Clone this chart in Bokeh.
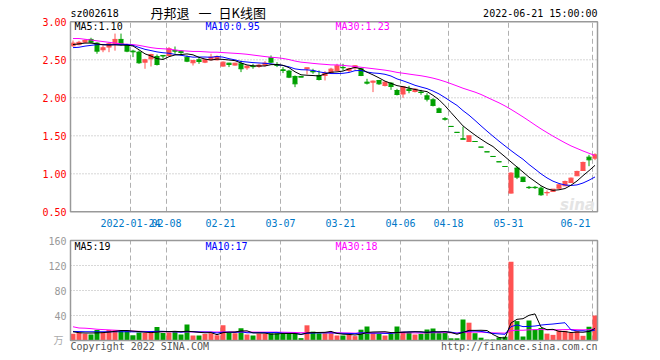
from bokeh.plotting import figure
from bokeh.models import Range1d, ColumnDataSource
from bokeh.core.properties import value
from bokeh.embed import file_html
from bokeh.resources import INLINE

# ---------------- data ----------------
opens = [2.684, 2.700, 2.732, 2.768, 2.719, 2.632, 2.667, 2.711, 2.768, 2.689,
         2.614, 2.601, 2.469, 2.513, 2.544, 2.557, 2.557, 2.623, 2.614, 2.535,
         2.461, 2.500, 2.469, 2.500, 2.500, 2.417, 2.456, 2.430, 2.447, 2.395,
         2.414, 2.412, 2.430, 2.526, 2.439, 2.368, 2.351, 2.281, 2.281, 2.382,
         2.351, 2.294, 2.294, 2.333, 2.360, 2.400, 2.360, 2.395, 2.382, 2.206,
         2.206, 2.228, 2.162, 2.193, 2.096, 2.050, 2.114, 2.083, 2.075, 2.026,
         1.974, 1.855, 1.724, 1.623, 1.545, 1.460, 1.425, 1.425, 1.351, 1.289,
         1.228, 1.158, 1.096, 0.746, 1.075, 0.956, 0.822, 0.822, 0.811, 0.750,
         0.768, 0.811, 0.842, 0.886, 0.974, 1.044, 1.219, 1.206]
highs = [2.754, 2.750, 2.770, 2.790, 2.730, 2.690, 2.730, 2.845, 2.845, 2.710,
         2.632, 2.623, 2.513, 2.579, 2.570, 2.557, 2.667, 2.675, 2.623, 2.557,
         2.500, 2.535, 2.513, 2.579, 2.557, 2.478, 2.460, 2.460, 2.490, 2.425,
         2.447, 2.447, 2.482, 2.557, 2.469, 2.404, 2.368, 2.294, 2.285, 2.395,
         2.382, 2.360, 2.351, 2.395, 2.447, 2.447, 2.395, 2.430, 2.395, 2.250,
         2.228, 2.228, 2.219, 2.206, 2.118, 2.150, 2.157, 2.127, 2.105, 2.061,
         1.996, 1.873, 1.746, 1.623, 1.545, 1.620, 1.500, 1.425, 1.351, 1.289,
         1.228, 1.158, 1.096, 1.020, 1.096, 0.960, 0.840, 0.840, 0.833, 0.780,
         0.800, 0.860, 0.910, 0.950, 1.040, 1.160, 1.250, 1.270]
lows = [2.675, 2.690, 2.720, 2.720, 2.580, 2.600, 2.600, 2.620, 2.689, 2.600,
        2.535, 2.447, 2.382, 2.412, 2.425, 2.513, 2.544, 2.579, 2.557, 2.469,
        2.425, 2.447, 2.456, 2.491, 2.491, 2.410, 2.404, 2.425, 2.338, 2.368,
        2.382, 2.395, 2.412, 2.456, 2.404, 2.325, 2.259, 2.140, 2.272, 2.307,
        2.316, 2.228, 2.228, 2.325, 2.351, 2.360, 2.338, 2.368, 2.285, 2.175,
        2.075, 2.170, 2.149, 2.105, 2.031, 2.000, 2.060, 2.070, 2.040, 1.952,
        1.886, 1.800, 1.700, 1.623, 1.545, 1.456, 1.420, 1.425, 1.351, 1.289,
        1.228, 1.158, 1.096, 0.740, 0.930, 0.890, 0.800, 0.800, 0.710, 0.710,
        0.760, 0.800, 0.840, 0.880, 0.970, 1.040, 1.100, 1.180]
closes = [2.719, 2.730, 2.754, 2.732, 2.614, 2.658, 2.711, 2.768, 2.711, 2.614,
          2.605, 2.461, 2.500, 2.570, 2.439, 2.550, 2.645, 2.614, 2.597, 2.482,
          2.490, 2.478, 2.500, 2.535, 2.544, 2.469, 2.439, 2.456, 2.382, 2.417,
          2.410, 2.430, 2.456, 2.469, 2.425, 2.360, 2.272, 2.184, 2.272, 2.395,
          2.342, 2.241, 2.325, 2.377, 2.421, 2.395, 2.382, 2.421, 2.294, 2.193,
          2.219, 2.184, 2.206, 2.149, 2.044, 2.145, 2.096, 2.114, 2.070, 1.982,
          1.900, 1.807, 1.719, 1.623, 1.545, 1.456, 1.500, 1.425, 1.351, 1.289,
          1.228, 1.158, 1.096, 1.009, 0.956, 0.899, 0.818, 0.818, 0.724, 0.754,
          0.798, 0.855, 0.899, 0.943, 1.031, 1.149, 1.184, 1.250]
volumes = [11.0, 12.5, 11.0, 9.5, 17.0, 13.0, 17.0, 17.0, 16.0, 17.0,
           8.5, 13.0, 12.0, 12.5, 21.5, 12.0, 13.0, 14.5, 9.5, 25.5,
           8.0, 8.0, 10.5, 11.5, 8.5, 24.3, 12.0, 11.7, 19.7, 9.6,
           8.0, 11.0, 10.7, 11.5, 11.5, 11.5, 10.7, 10.7, 3.8, 24.3,
           14.2, 11.5, 11.5, 11.5, 8.0, 8.0, 9.6, 7.0, 17.3, 22.4,
           11.7, 10.7, 8.0, 10.7, 22.4, 14.2, 13.0, 9.6, 10.7, 17.6,
           19.2, 11.7, 12.0, 3.5, 3.5, 33.6, 28.5, 11.7, 4.5, 1.5,
           1.6, 5.0, 6.0, 126.0, 31.0, 6.4, 32.0, 17.3, 20.0, 11.0,
           9.0, 16.0, 15.5, 12.0, 15.0, 7.5, 22.0, 40.0]

# moving-average values before enough in-window days exist
ma5_head = [2.700, 2.710, 2.720, 2.720]
ma10_head = [2.660, 2.665, 2.680, 2.690, 2.700, 2.700, 2.700, 2.700, 2.700]
ma30_head = [2.780, 2.780, 2.770, 2.760, 2.750, 2.740, 2.730, 2.720, 2.710, 2.705,
             2.700, 2.690, 2.675, 2.660, 2.650, 2.645, 2.640, 2.630, 2.620, 2.615,
             2.610, 2.610, 2.605, 2.600, 2.600, 2.595, 2.590, 2.585, 2.580]
vma5_head = [14.0, 12.5, 12.0, 12.0]
vma10_head = [14.5, 14.3, 14.0, 14.0, 14.0, 14.0, 14.0, 14.0, 14.0]
vma30_head = [22.0, 20.0, 19.7, 19.0, 18.0, 17.5, 17.0, 16.5, 16.0, 15.5,
              15.0, 14.8, 14.5, 14.3, 14.1, 14.0, 14.0, 13.9, 13.8, 13.8,
              13.7, 13.7, 13.7, 13.6, 13.6, 13.6, 13.6, 13.6, 13.6]

tick_idx = [10, 16, 25, 35, 45, 55, 63, 73, 87]
tick_labels = ["2022-01-24", "02-08", "02-21", "03-07", "03-21", "04-06",
               "04-18", "05-31", "06-21"]
price_ticks = [3.00, 2.50, 2.00, 1.50, 1.00, 0.50]
vol_ticks = [160, 120, 80, 40]

code = "sz002618"
title_parts = ["丹邦退", "一", "日K线图"]
stamp = "2022-06-21 15:00:00"
ma_price_text = ["MA5:1.10", "MA10:0.95", "MA30:1.23"]
ma_vol_text = ["MA5:19", "MA10:17", "MA30:18"]


def rolling(vals, n, head):
    out = list(head)
    for k in range(len(head), len(vals)):
        out.append(sum(vals[k - n + 1:k + 1]) / n)
    return out


ma5 = rolling(closes, 5, ma5_head)
ma10 = rolling(closes, 10, ma10_head)
ma30 = rolling(closes, 30, ma30_head)
vma5 = rolling(volumes, 5, vma5_head)
vma10 = rolling(volumes, 10, vma10_head)
vma30 = rolling(volumes, 30, vma30_head)

# ---------------- styling ----------------
RED, GREEN = "#ff5252", "#00a000"
FRAME = "#999999"
GRID = "#b0b0b0"
MONO = "DejaVu Sans Mono"
CJK = "Noto Sans CJK SC"
FS = "10px"

n = len(closes)
idx = list(range(n))
colors = [RED if c > o else GREEN for o, c in zip(opens, closes)]
BW = 0.83
src = ColumnDataSource(dict(
    x=idx, o=opens, h=highs, l=lows, c=closes,
    top=[max(o, c) for o, c in zip(opens, closes)],
    bot=[min(o, c) for o, c in zip(opens, closes)],
    xl=[i - BW / 2 for i in idx], xr=[i + BW / 2 for i in idx],
    v=volumes, color=colors))

# page-pixel layout (canvas origin at the page's top-left)
ORG = 0
W, H = 652, 352
PX = 6.0            # pixels per trading day
x0_page = 72.5      # page x of first candle centre
PPU = 76.0          # pixels per 1.00 of price
P_Y3 = 21.3         # page y of price 3.00
VPU = 0.625         # pixels per volume unit
V_Y0 = 340.0        # page y of volume 0

xs = -(x0_page - ORG) / PX
cp = H + ORG - (P_Y3 + 3 * PPU)
cv = H + ORG - V_Y0
p = figure(width=W, height=H, output_backend="svg", toolbar_location=None,
           x_range=Range1d(xs, xs + W / PX),
           y_range=Range1d(-cp / PPU, (H - cp) / PPU),
           x_axis_type=None, y_axis_type=None, min_border=0,
           background_fill_color="white", border_fill_color="white")
p.outline_line_color = None
p.grid.visible = False
p.extra_y_ranges = {"vol": Range1d(-cv / VPU, (H - cv) / VPU),
                    "py": Range1d(ORG + H, ORG)}
p.extra_x_ranges = {"px": Range1d(ORG, ORG + W)}

# panel edges in data units
XL = (70 - x0_page) / PX
XR = (597 - x0_page) / PX
P_TOP, P_BOT = 3.0, 0.5
V_TOP, V_BOT = 160, 0

# grids
gx = [t - 2.5 / PX for t in tick_idx]
p.segment(x0=gx, y0=[P_BOT] * len(gx), x1=gx, y1=[P_TOP] * len(gx),
          line_color=GRID, line_dash="5 3", line_width=1)
p.segment(x0=gx, y0=[V_BOT] * len(gx), x1=gx, y1=[V_TOP] * len(gx),
          line_color=GRID, line_dash="5 3", line_width=1, y_range_name="vol")
hp = price_ticks[1:-1]
p.segment(x0=[XL] * len(hp), y0=hp, x1=[XR] * len(hp), y1=hp,
          line_color=GRID, line_dash="1 2", line_width=1)
hv = vol_ticks[1:]
p.segment(x0=[XL] * len(hv), y0=hv, x1=[XR] * len(hv), y1=hv,
          line_color=GRID, line_dash="1 2", line_width=1, y_range_name="vol")

# watermark
p.text(x=[577], y=[204], text=["sina"], x_range_name="px", y_range_name="py",
       text_font=value("DejaVu Sans"), text_font_size="15px", text_font_style="bold italic",
       text_color="#e4e4e4", text_align="center", text_baseline="middle")

# volume bars
p.vbar(x="x", width=BW, top="v", bottom=0, source=src, y_range_name="vol",
       fill_color="color", line_color=None)

# candles
p.segment(x0="x", y0="l", x1="x", y1="h", source=src, line_color="color", line_width=1)
p.vbar(x="x", width=BW, top="top", bottom="bot", source=src,
       fill_color="color", line_color=None)
p.segment(x0="xl", y0="o", x1="xr", y1="o", source=src, line_color="color", line_width=1)
p.segment(x0="xl", y0="c", x1="xr", y1="c", source=src, line_color="color", line_width=1)

# moving averages
p.line(idx, ma30, line_color="#ff00ff", line_width=1)
p.line(idx, ma10, line_color="#0000ff", line_width=1)
p.line(idx, ma5, line_color="#000000", line_width=1)
p.line(idx, vma30, line_color="#ff00ff", line_width=1, y_range_name="vol")
p.line(idx, vma10, line_color="#0000ff", line_width=1, y_range_name="vol")
p.line(idx, vma5, line_color="#000000", line_width=1, y_range_name="vol")

# frames
p.quad(left=[XL], right=[XR], top=[P_TOP], bottom=[P_BOT],
       fill_color=None, line_color=FRAME, line_width=1.5)
p.quad(left=[XL], right=[XR], top=[V_TOP], bottom=[V_BOT], y_range_name="vol",
       fill_color=None, line_color=FRAME, line_width=1.5)

# axis labels
p.text(x=[66] * len(price_ticks), y=price_ticks, text=["%.2f" % t for t in price_ticks],
       x_range_name="px", text_font=value(MONO), text_font_size=FS, text_color="#ff0000",
       text_align="right", text_baseline="middle")
p.text(x=[66] * len(vol_ticks), y=vol_ticks, text=[str(t) for t in vol_ticks],
       x_range_name="px", y_range_name="vol", text_font=value(MONO), text_font_size=FS,
       text_color="#999999", text_align="right", text_baseline="middle")
p.text(x=[63], y=[339], text=["万"], x_range_name="px", y_range_name="py",
       text_font=value(CJK), text_font_size="10px", text_color="#aaaaaa",
       text_align="right", text_baseline="middle")
p.text(x=gx[:-1], y=[222] * (len(gx) - 1), text=tick_labels[:-1], y_range_name="py",
       text_font=value(MONO), text_font_size=FS, text_color="#0078c8",
       text_align="center", text_baseline="middle")
p.text(x=[590], y=[222], text=tick_labels[-1:], x_range_name="px", y_range_name="py",
       text_font=value(MONO), text_font_size=FS, text_color="#0078c8",
       text_align="right", text_baseline="middle")

# header
p.text(x=[70], y=[13], text=[code], x_range_name="px", y_range_name="py",
       text_font=value(MONO), text_font_size=FS, text_color="#000000",
       text_align="left", text_baseline="middle")
for t, xx in zip(title_parts, [150, 198, 218]):
    p.text(x=[xx], y=[12], text=[t], x_range_name="px", y_range_name="py",
           text_font=value(CJK), text_font_size="13px", text_color="#000000",
           text_align="left", text_baseline="middle")
p.text(x=[597], y=[13], text=[stamp], x_range_name="px", y_range_name="py",
       text_font=value(MONO), text_font_size=FS, text_color="#000000",
       text_align="right", text_baseline="middle")

ma_cols = ["#000000", "#0000ff", "#ff00ff"]
ma_x = [74, 205, 335]
for t, c, xx in zip(ma_price_text, ma_cols, ma_x):
    p.text(x=[xx], y=[26], text=[t], x_range_name="px", y_range_name="py",
           text_font=value(MONO), text_font_size=FS, text_color=c,
           text_align="left", text_baseline="middle")
for t, c, xx in zip(ma_vol_text, ma_cols, ma_x):
    p.text(x=[xx], y=[246], text=[t], x_range_name="px", y_range_name="py",
           text_font=value(MONO), text_font_size=FS, text_color=c,
           text_align="left", text_baseline="middle")

# footer
p.text(x=[70], y=[346], text=["Copyright 2022 SINA.COM"], x_range_name="px", y_range_name="py",
       text_font=value(MONO), text_font_size=FS, text_color="#555555",
       text_align="left", text_baseline="middle")
p.text(x=[597], y=[346], text=["http://finance.sina.com.cn"], x_range_name="px", y_range_name="py",
       text_font=value(MONO), text_font_size=FS, text_color="#555555",
       text_align="right", text_baseline="middle")

open("out.html", "w").write(file_html(p, INLINE))
